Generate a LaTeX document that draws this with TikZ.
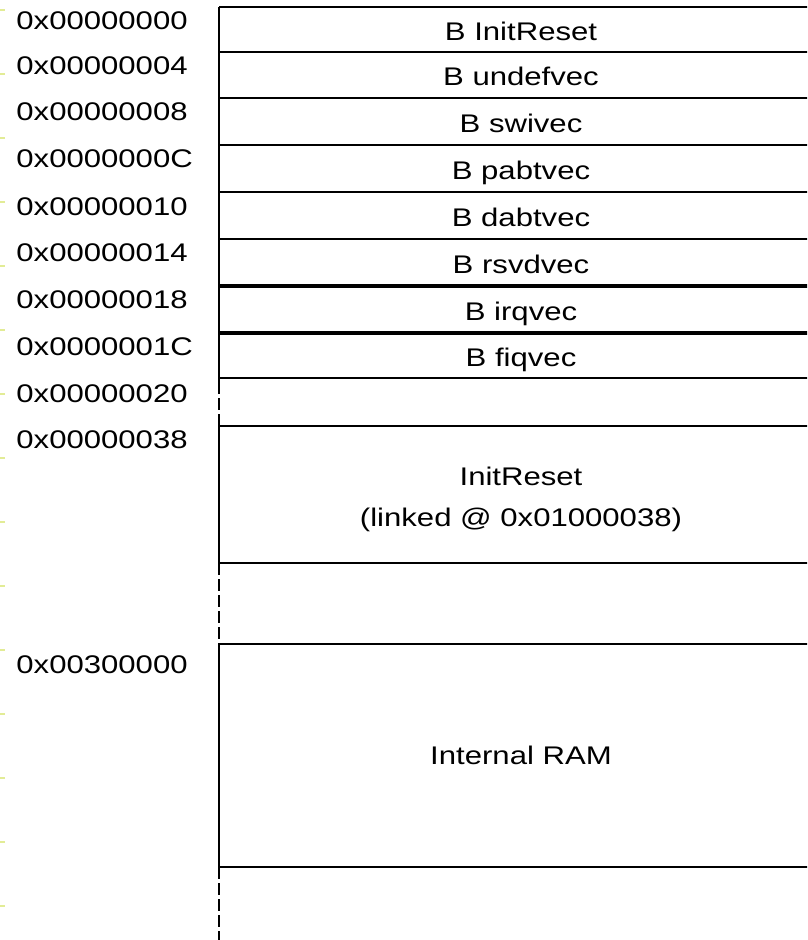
\documentclass[tikz,border=0pt]{standalone}
\usepackage{fontspec}
\setmainfont{Liberation Sans}[FakeStretch=1.22]
\definecolor{marcaclara}{RGB}{226,236,150}
\tikzset{
    celda/.style={
        font=\fontsize{12.75}{15}\selectfont,
        inner sep=0pt,
        anchor=base
    },
    direccion/.style={
        font=\fontsize{12.75}{15}\selectfont,
        inner sep=0pt,
        anchor=base west
    },
    borde/.style={line width=1pt},
    borde grueso/.style={line width=1.9pt},
    hueco/.style={line width=1pt, dash pattern=on 6pt off 2pt},
    marca/.style={draw=marcaclara, line width=0.6pt}
}

\begin{document}
\begin{tikzpicture}[
    x=0.5pt,
    y=-0.5pt
]
    \useasboundingbox (0,0) rectangle (807,940);
    \clip (0,0) rectangle (807,940);

    % Marcas del margen
    \foreach \k in {0,...,14}
        \draw[marca] (0,10+64*\k) -- (5,10+64*\k);

    % Lineas de separacion
    \foreach \y in {7,52,98,145,192,239,378,426,563,644,867}
        \draw[borde] (219,\y) -- (830,\y);
    \draw[borde grueso] (219,286) -- (830,286);
    \draw[borde grueso] (219,333) -- (830,333);

    % Borde izquierdo
    \draw[borde] (219,7)   -- (219,382);
    \draw[hueco] (219,382) -- (219,426);
    \draw[borde] (219,426) -- (219,563);
    \draw[hueco] (219,563) -- (219,644);
    \draw[borde] (219,644) -- (219,867);
    \draw[hueco] (219,867) -- (219,946);

    % Direcciones
    \node[direccion] (a00) at (16,29.5)  {0x00000000};
    \node[direccion] (a04) at (16,75)    {0x00000004};
    \node[direccion] (a08) at (16,121)   {0x00000008};
    \node[direccion] (a0c) at (16,168)   {0x0000000C};
    \node[direccion] (a10) at (16,215.5) {0x00000010};
    \node[direccion] (a14) at (16,261.5) {0x00000014};
    \node[direccion] (a18) at (16,309)   {0x00000018};
    \node[direccion] (a1c) at (16,355.5) {0x0000001C};
    \node[direccion] (a20) at (16,402)   {0x00000020};
    \node[direccion] (a38) at (16,448.5) {0x00000038};
    \node[direccion] (ram) at (16,673)   {0x00300000};

    % Vectores
    \node[celda] (vreset) at (521,40.5)  {B InitReset};
    \node[celda] (vundef) at (521,86)    {B undefvec};
    \node[celda] (vswi)   at (521,132.5) {B swivec};
    \node[celda] (vpabt)  at (521,179.5) {B pabtvec};
    \node[celda] (vdabt)  at (521,226.5) {B dabtvec};
    \node[celda] (vrsvd)  at (521,273.5) {B rsvdvec};
    \node[celda] (virq)   at (521,320.5) {B irqvec};
    \node[celda] (vfiq)   at (521,366.5) {B fiqvec};

    % Bloques
    \node[celda] (init)    at (521,485) {InitReset};
    \node[celda] (linked)  at (521,526) {(linked @ 0x01000038)};
    \node[celda] (intram)  at (521,764) {Internal RAM};

\end{tikzpicture}
\end{document}
